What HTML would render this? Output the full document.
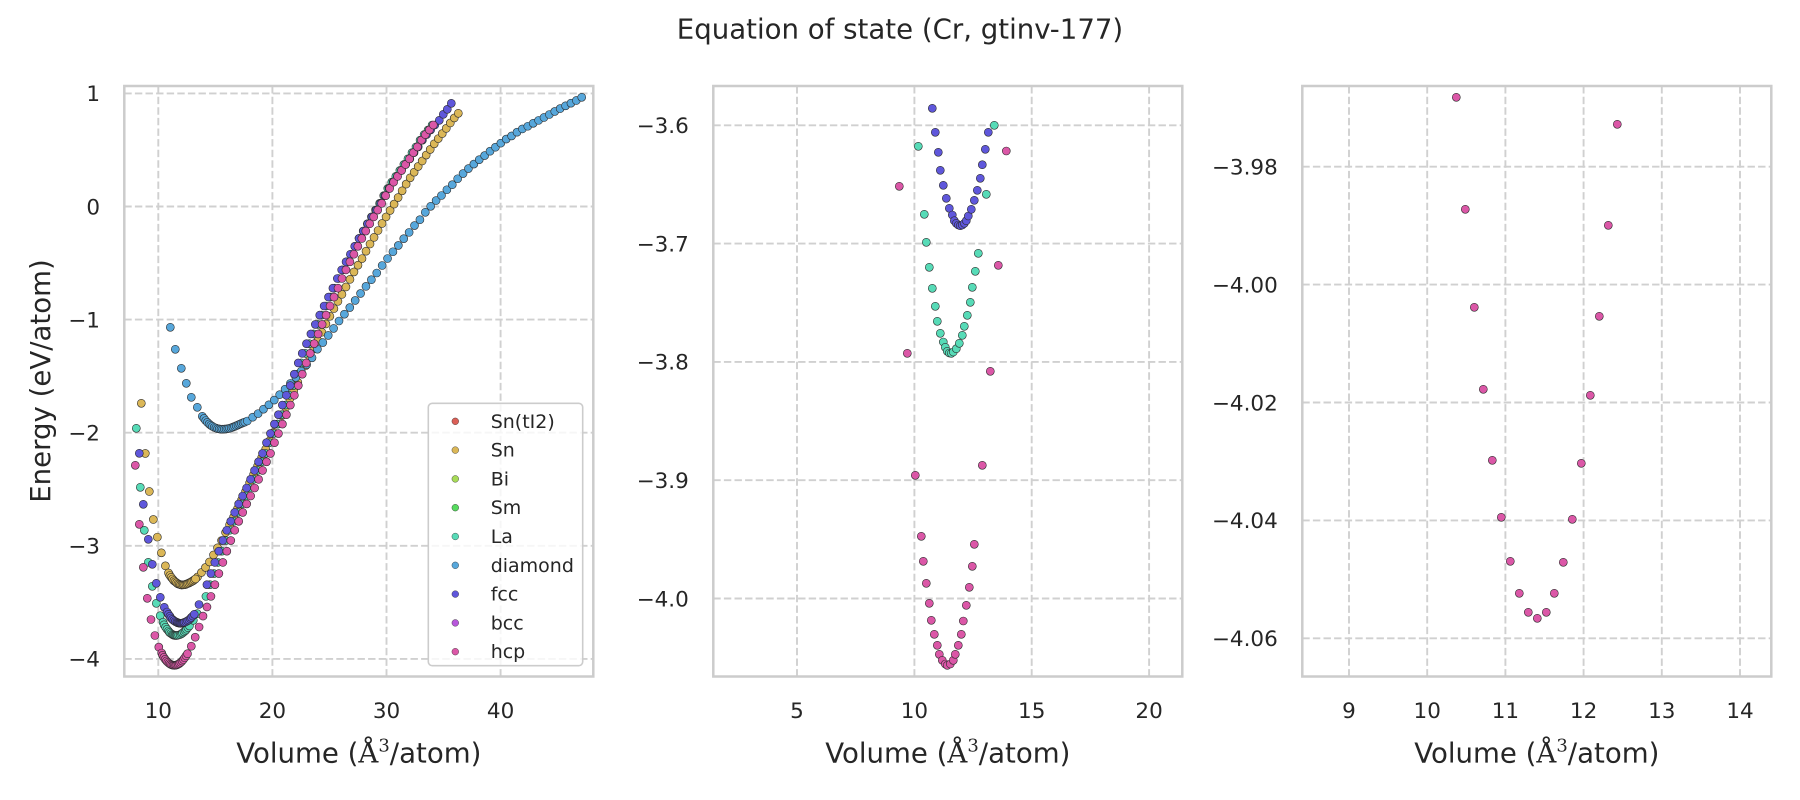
<!DOCTYPE html>
<html><head><meta charset="utf-8"><style>
html,body{margin:0;padding:0;background:#fff;}
svg{display:block;}
text{font-family:"DejaVu Sans","Liberation Sans",sans-serif;fill:#262626;}
</style></head><body>
<svg id="s" width="1800" height="800" viewBox="0 0 1800 800" xmlns="http://www.w3.org/2000/svg">
<defs>
<clipPath id="c1"><rect x="124.3" y="86" width="469" height="590.5"/></clipPath>
<clipPath id="c2"><rect x="713.3" y="86" width="469" height="590.5"/></clipPath>
<clipPath id="c3"><rect x="1302.3" y="86" width="469" height="590.5"/></clipPath>
</defs>
<rect width="1800" height="800" fill="#fff"/>
<g stroke="#d0d0d0" stroke-width="1.9" stroke-dasharray="7.4,3.2" fill="none">
<line x1="124.3" x2="593.3" y1="93.4" y2="93.4"/><line x1="124.3" x2="593.3" y1="206.5" y2="206.5"/><line x1="124.3" x2="593.3" y1="319.6" y2="319.6"/><line x1="124.3" x2="593.3" y1="432.7" y2="432.7"/><line x1="124.3" x2="593.3" y1="545.8" y2="545.8"/><line x1="124.3" x2="593.3" y1="658.9" y2="658.9"/>
<line x1="158.3" x2="158.3" y1="676.5" y2="86"/><line x1="272.4" x2="272.4" y1="676.5" y2="86"/><line x1="386.5" x2="386.5" y1="676.5" y2="86"/><line x1="500.6" x2="500.6" y1="676.5" y2="86"/>
<line x1="713.3" x2="1182.3" y1="125.3" y2="125.3"/><line x1="713.3" x2="1182.3" y1="243.6" y2="243.6"/><line x1="713.3" x2="1182.3" y1="361.9" y2="361.9"/><line x1="713.3" x2="1182.3" y1="480.2" y2="480.2"/><line x1="713.3" x2="1182.3" y1="598.5" y2="598.5"/>
<line x1="797" x2="797" y1="676.5" y2="86"/><line x1="914.4" x2="914.4" y1="676.5" y2="86"/><line x1="1031.7" x2="1031.7" y1="676.5" y2="86"/><line x1="1149.1" x2="1149.1" y1="676.5" y2="86"/>
<line x1="1302.3" x2="1771.3" y1="166.7" y2="166.7"/><line x1="1302.3" x2="1771.3" y1="284.6" y2="284.6"/><line x1="1302.3" x2="1771.3" y1="402.5" y2="402.5"/><line x1="1302.3" x2="1771.3" y1="520.4" y2="520.4"/><line x1="1302.3" x2="1771.3" y1="638.3" y2="638.3"/>
<line x1="1349" x2="1349" y1="676.5" y2="86"/><line x1="1427.2" x2="1427.2" y1="676.5" y2="86"/><line x1="1505.4" x2="1505.4" y1="676.5" y2="86"/><line x1="1583.6" x2="1583.6" y1="676.5" y2="86"/><line x1="1661.8" x2="1661.8" y1="676.5" y2="86"/><line x1="1740" x2="1740" y1="676.5" y2="86"/>
</g>
<g id="d1" clip-path="url(#c1)"></g>
<g id="d2" clip-path="url(#c2)"></g>
<g id="d3" clip-path="url(#c3)"></g>
<g fill="none" stroke="#cccccc" stroke-width="2.5">
<rect x="124.3" y="86" width="469" height="590.5"/>
<rect x="713.3" y="86" width="469" height="590.5"/>
<rect x="1302.3" y="86" width="469" height="590.5"/>
</g>
<text x="900" y="38.3" font-size="27.6" text-anchor="middle">Equation of state (Cr, gtinv-177)</text>
<g font-size="21.5" text-anchor="end">
<text x="100" y="101.2">1</text><text x="100" y="214.3">0</text><text x="100" y="327.4">−1</text><text x="100" y="440.5">−2</text><text x="100" y="553.6">−3</text><text x="100" y="666.7">−4</text>
<text x="688.8" y="133.1">−3.6</text><text x="688.8" y="251.4">−3.7</text><text x="688.8" y="369.7">−3.8</text><text x="688.8" y="488">−3.9</text><text x="688.8" y="606.3">−4.0</text>
<text x="1277.8" y="174.5">−3.98</text><text x="1277.8" y="292.4">−4.00</text><text x="1277.8" y="410.3">−4.02</text><text x="1277.8" y="528.2">−4.04</text><text x="1277.8" y="646.1">−4.06</text>
</g>
<g font-size="21.5" text-anchor="middle">
<text x="158.3" y="718">10</text><text x="272.4" y="718">20</text><text x="386.5" y="718">30</text><text x="500.6" y="718">40</text>
<text x="797" y="718">5</text><text x="914.4" y="718">10</text><text x="1031.7" y="718">15</text><text x="1149.1" y="718">20</text>
<text x="1349" y="718">9</text><text x="1427.2" y="718">10</text><text x="1505.4" y="718">11</text><text x="1583.6" y="718">12</text><text x="1661.8" y="718">13</text><text x="1740" y="718">14</text>
</g>
<g font-size="27.6" text-anchor="middle">
<text x="358.8" y="762.7">Volume (<tspan font-family="DejaVu Serif, Liberation Serif, serif">Å</tspan><tspan font-family="DejaVu Serif, Liberation Serif, serif" font-size="18" dy="-11">3</tspan><tspan dy="11">/atom)</tspan></text>
<text x="947.8" y="762.7">Volume (<tspan font-family="DejaVu Serif, Liberation Serif, serif">Å</tspan><tspan font-family="DejaVu Serif, Liberation Serif, serif" font-size="18" dy="-11">3</tspan><tspan dy="11">/atom)</tspan></text>
<text x="1536.8" y="762.7">Volume (<tspan font-family="DejaVu Serif, Liberation Serif, serif">Å</tspan><tspan font-family="DejaVu Serif, Liberation Serif, serif" font-size="18" dy="-11">3</tspan><tspan dy="11">/atom)</tspan></text>
<text transform="translate(50,381) rotate(-90)">Energy (eV/atom)</text>
</g>
<rect x="428.3" y="403.3" width="154.4" height="262.4" rx="4" ry="4" fill="#fff" fill-opacity="0.8" stroke="#cccccc" stroke-width="1.6"/>
<g stroke="#2a2a2a" stroke-width="0.4">
<circle cx="455.3" cy="421.3" r="3.4" fill="#db5f57"/>
<circle cx="455.3" cy="450.1" r="3.4" fill="#dbb757"/>
<circle cx="455.3" cy="478.9" r="3.4" fill="#a7db57"/>
<circle cx="455.3" cy="507.7" r="3.4" fill="#57db5f"/>
<circle cx="455.3" cy="536.5" r="3.4" fill="#57dbb7"/>
<circle cx="455.3" cy="565.3" r="3.4" fill="#57a7db"/>
<circle cx="455.3" cy="594.1" r="3.4" fill="#5f57db"/>
<circle cx="455.3" cy="622.9" r="3.4" fill="#b757db"/>
<circle cx="455.3" cy="651.7" r="3.4" fill="#db57a7"/>
</g>
<g font-size="19">
<text x="490.7" y="427.8">Sn(tI2)</text>
<text x="490.7" y="456.6">Sn</text>
<text x="490.7" y="485.4">Bi</text>
<text x="490.7" y="514.2">Sm</text>
<text x="490.7" y="543">La</text>
<text x="490.7" y="571.8">diamond</text>
<text x="490.7" y="600.6">fcc</text>
<text x="490.7" y="629.4">bcc</text>
<text x="490.7" y="658.2">hcp</text>
</g>
</svg>
<script>
(function(){
var NS="http://www.w3.org/2000/svg";
function interp(a,x){if(x<=a[0][0])return a[0][1];for(var i=1;i<a.length;i++){if(x<=a[i][0]){var t=(x-a[i-1][0])/(a[i][0]-a[i-1][0]);return a[i-1][1]+t*(a[i][1]-a[i-1][1]);}}return a[a.length-1][1];}
function range(x0,dx,n){var r=[];for(var i=0;i<n;i++)r.push(x0+i*dx);return r;}
function sample(a,xs){return xs.map(function(x){return [x,interp(a,x)];});}
function add(gid,pts,col){var g=document.getElementById(gid);for(var i=0;i<pts.length;i++){var c=document.createElementNS(NS,"circle");c.setAttribute("cx",pts[i][0].toFixed(2));c.setAttribute("cy",pts[i][1].toFixed(2));c.setAttribute("r","4");c.setAttribute("fill",col);c.setAttribute("stroke","#2a2a2a");c.setAttribute("stroke-width","0.6");g.appendChild(c);}}
var C={Sn:"#dbb757",La:"#57dbb7",dia:"#57a7db",fcc:"#5f57db",hcp:"#db57a7"};

var hcpLeft=[[135.3,465.3],[139.3,524.3],[143.3,567.3],[147.3,598.3],[151.0,619.5],[154.9,635.5],[158.8,647.1],[161.7,653.0]];
var hcpFine=[[162.55,655.31],[163.86,657.46],[165.17,659.34],[166.49,660.91],[167.80,662.27],[169.11,663.37],[170.42,664.21],[171.74,664.82],[173.05,665.19],[174.36,665.30],[175.68,665.19],[176.84,664.82],[178.16,664.23],[179.47,663.41],[180.78,662.33],[182.10,661.03],[183.41,659.51],[184.72,657.76],[186.04,655.83]];
var hcpRA=[[187.5,653.7],[191.3,646.2],[195.2,637.2],[199.1,627.0],[203.0,616.1],[207.7,605.3],[211.7,594.3],[215.7,582.3],[219.7,571.3],[223.7,560],[227.7,548.7],[234.3,531.3],[242.3,513.3],[246.3,504.7],[254.3,488.7],[258.3,480],[262.3,471],[266.3,462.3],[270.3,454],[273.3,445.3],[277.3,436.3],[281.3,426.7],[285.3,417.3],[289.3,407.7],[293.3,397.7],[297.3,388.3],[301.3,377.3],[304.3,367.7],[308.3,358],[312.3,348.3],[320.3,328.7],[324.3,319.3],[328.3,310],[332.3,301],[336.3,292],[340.3,283],[343.3,275],[347.3,267.3],[351.3,259],[355.3,251.7],[359.3,243.3],[363.3,235.7],[367.3,228.3],[371.3,221],[375.3,214.3],[379.3,207.3],[383.3,200.7],[386.3,194.3],[390.3,187.3],[394.3,181],[398.3,175.3],[402.3,169.3],[406.3,163.3],[410.3,157.7],[414.3,151.3],[418.3,145.7],[421.3,140.3],[425.3,134.7],[429.3,130],[433.3,125]];
var hcpAll=hcpLeft.concat(hcpFine,hcpRA);
var hcpR=[[187.5,653.7],[191.3,646.2],[195.2,637.2],[199.1,627.0]].concat(sample(hcpAll,range(203.0,3.971,59)));

function dF(y){if(y>=350)return 8;if(y>=200)return 1+7*(y-200)/150;if(y>=110)return -2+3*(y-110)/90;return -2;}
function dL(y){if(y>=350)return 5;if(y>=200)return 2+3*(y-200)/150;return Math.max(1,1+(y-110)/90);}

var ASn=[[141.3,403.3],[145.3,453.3],[149.3,491.3],[153.3,519.3],[158.3,541.3],[162.3,556.3],[166.3,568.7],[170,575.8],[174,580.8],[178,583.9],[181.7,585],[185,584.6],[189,583],[193,580.8],[196.3,578.3],[201.3,572.7],[205.3,567.7],[209.3,562.3],[213.3,555.3],[217.3,548.3],[221.3,541],[225.3,533],[230,524],[234.3,515.7],[238.3,507],[260,461],[290,398.5],[325.7,324.3],[333.7,309],[338.3,300.7],[342.3,293.7],[346.3,286.3],[350.3,278.7],[354.3,271.3],[358.7,264],[363,257],[367,249.3],[371,242.3],[375.3,235.3],[379.3,228.3],[383.3,221.3],[387.7,214.3],[392,207.3],[396.3,200.7],[400.3,193.7],[404.3,187.3],[408.3,180.3],[412.7,174.3],[417,168],[421.3,162.3],[425.3,156.3],[429.3,150.7],[433.3,145],[437.7,139.3],[441.7,134.3],[446,128.7],[450,123.3],[454,118.3],[458.3,113.3]];
var snPts=sample(ASn,range(141.3,4.0127,80)).concat(sample(ASn,range(168.5,1.35,21)));
add("d1",snPts,C.Sn);

var laLeft=[[136.3,428.3],[140.3,487.3],[144.3,530.3],[148.3,562.3],[152.3,586.3],[156.3,603.3],[160.2,615.7]];
var laFine=[[163.1,622.2],[164.1,624.8],[165.6,627.2],[167.0,629.2],[168.5,631.0],[169.5,632.4],[170.9,633.5],[172.4,634.4],[173.3,634.9],[174.3,635.3],[175.3,635.4],[176.3,635.5],[177.2,635.3],[178.7,635.0],[180.2,634.5],[181.6,633.7],[182.6,632.9],[184.0,631.8],[185.5,630.6],[186.5,629.2],[187.9,627.6],[189.4,625.9],[193.3,620.3],[197.2,613.7]];
var laRight=hcpR.filter(function(p){return p[0]>=207;}).map(function(p){return [p[0]-dL(p[1]),p[1]];});
add("d1",laLeft.concat(laFine,laRight),C.La);

var AD=[[170.3,327.3],[175.3,349.3],[181.3,368.3],[186.3,383.3],[191.3,397.3],[197.3,407.3],[202.3,416.3],[206,421],[210,424.8],[214,427.3],[218,428.8],[221.7,429.3],[226,429],[230,428.2],[235,426.3],[240,424],[247.3,421],[253,417],[258,413.7],[263.3,409.3],[269,404.7],[274.3,400],[280,394.3],[285.4,388.8],[290.8,383.0],[296.2,377.0],[301.6,370.7],[307,364.2],[312.4,357.3],[317.3,349.3],[323,342.3],[328.3,335.3],[333.7,328.3],[339,321],[344.3,314.3],[350,307.3],[355.3,300.3],[360.7,293.3],[366,286.3],[371.7,279.3],[377,272.7],[382.3,265.3],[387.7,258.3],[393.3,251.3],[398.7,245],[404,238.3],[409.7,231.7],[414.7,225.3],[420.3,219.3],[425.3,212.3],[430.7,206.3],[436.3,200.3],[441.7,195.3],[447.3,189.3],[452.7,184.3],[457.7,178.7],[463.3,173.3],[468.7,168.3],[474.3,163.7],[479.7,159.3],[485,155.3],[490.3,151],[495.7,147],[501,143],[506.3,139],[512,135.7],[517.3,132],[522.7,128.7],[528.3,126],[533.7,123],[538.7,120.3],[544.3,117.3],[549.7,114.3],[555,111.3],[560.7,108.3],[565.7,105.7],[571.3,103],[576.7,100.3],[581.7,97.3]];
var dPts=sample(AD,[170.3,175.3,181.3,186.3,191.3,197.3,202.3]).concat(sample(AD,range(204,1.7,25)),sample(AD,range(247.3,5.394,63)));
add("d1",dPts,C.dia);

var fLeft=[[139.3,453.3],[143.3,504.3],[148.3,539.3],[152.3,564.3],[156.3,583.3],[160.3,597.3],[164.3,607.3]];
var fxs=[167.0,168.5,169.9,170.9,172.4,173.8,175.3,176.8,177.7,178.7,179.7,180.6,181.6,182.6,183.6,184.5,186.0,187.5,188.9,190.4,191.3,192.8,194.3];
var fys=[612.0,614.3,616.2,618.0,619.4,620.6,621.6,622.2,622.8,623.0,623.2,623.3,623.2,623.0,622.8,622.3,621.7,620.8,619.9,618.7,617.4,616.0,614.3];
var fFine=fxs.map(function(x,i){return [x,fys[i]];});
var fRight=[[199,604.5]].concat(hcpR.filter(function(p){return p[0]>=211;}).map(function(p){return [p[0]-dF(p[1]),p[1]];}),[[439.3,120.3],[443.3,114.3],[447.3,109.3],[451.3,103.3]]);
add("d1",fLeft.concat(fFine,fRight),C.fcc);

add("d1",hcpLeft.concat(hcpFine,hcpR),C.hcp);

add("d2",[[918.3,146.3],[924.3,214.3],[926.3,242.3],[929.3,267.3],[932.3,288.3],[935.3,306.3],[937.3,321.3],[940.3,333.3],[943.3,342],[945.3,347.3],[947.3,351.3],[949.3,353],[951.3,353.3],[953.3,352],[956.3,348.7],[959.3,343.3],[962.3,335.3],[964.3,326.3],[967.3,315.3],[970.3,302.3],[972.3,287.3],[975.3,271.3],[978.3,253.3],[986.3,194.3],[994.3,125.3]],C.La);
add("d2",[[932.3,108.3],[935.3,132.3],[938.3,152.3],[940.3,170.3],[943.3,185.3],[946.3,198.3],[949.3,208.3],[952.3,215],[954.3,220.7],[956.3,223.3],[958.3,225],[960.3,225.7],[962.3,225],[964.3,223.3],[966.3,220.7],[968.3,216],[971.3,209.3],[974.3,200.3],[977.3,190.3],[980.3,178.3],[982.3,164.7],[985.3,149.3],[988.3,132.3]],C.fcc);
add("d2",[[899.3,186.3],[907.3,353.3],[915.3,475.3],[921.3,536.3],[923.3,561.3],[926.3,583.3],[929.3,603.3],[931.3,620.3],[934.3,634.3],[937.3,645.3],[939.3,654.3],[942.3,660.3],[945.3,664],[947.3,665.3],[950.3,664],[953.3,660.3],[955.3,654.3],[958.3,645.3],[961.3,634.3],[963.3,621],[966.3,605.3],[969.3,587.3],[972.3,566.3],[974.3,544.3],[982.3,465.3],[990.3,371.3],[998.3,265.3],[1006.3,151]],C.hcp);

var p3x=[1456.3,1465.3,1474.3,1483.3,1492.3,1501.3,1510.3,1519.3,1528.3,1537.3,1546.3,1554.3,1563.3,1572.3,1581.3,1590.3,1599.3,1608.3,1617.3];
var p3y=[97.3,209.3,307.3,389.3,460.3,517.3,561.3,593.3,612.3,618.3,612.3,593.3,562.3,519.3,463.3,395.3,316.3,225.3,124.3];
add("d3",p3x.map(function(x,i){return [x,p3y[i]];}),C.hcp);
})();
</script>
</body></html>
